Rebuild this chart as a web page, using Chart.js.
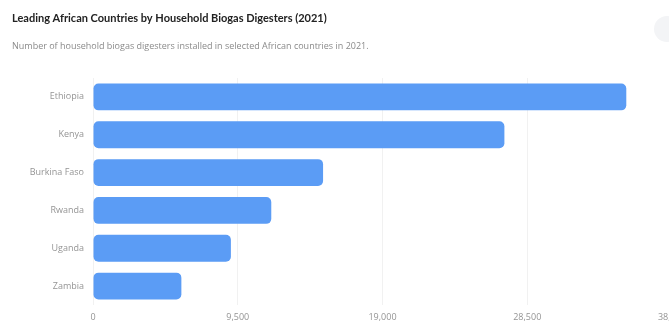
<!DOCTYPE html>
<html>
<head>
<meta charset="utf-8">
<script src="https://cdn.jsdelivr.net/npm/chart.js@4"></script>
<style>
  html, body { margin: 0; padding: 0; background: #fff; overflow: hidden; }
  #wrap { position: relative; width: 700px; height: 327px; }
  #btn { position: absolute; left: 654px; top: 16px; width: 26px; height: 26px; border-radius: 50%; background: #f3f4f6; }
</style>
</head>
<body>
<div id="wrap">
  <canvas id="biogasChart" width="700" height="327"></canvas>
  <div id="btn"></div>
</div>
<script>
// --- Datos ---
const countries = ['Ethiopia', 'Kenya', 'Burkina Faso', 'Rwanda', 'Uganda', 'Zambia'];
const digesters = [35000, 27000, 15100, 11700, 9050, 5800];
const xTicks = [0, 9500, 19000, 28500, 38000];

const fontFamily = '"Open Sans", "Noto Sans", sans-serif';

const ctx = document.getElementById('biogasChart').getContext('2d');

new Chart(ctx, {
    type: 'bar',
    data: {
        labels: countries,
        datasets: [{
            label: 'Household biogas digesters',
            data: digesters,
            backgroundColor: '#5b9cf5',
            borderRadius: 5,
            borderSkipped: false,
            categoryPercentage: 0.71,
            barPercentage: 1
        }]
    },
    options: {
        indexAxis: 'y',
        responsive: false,
        animation: false,
        layout: { padding: { left: 12, right: 28, bottom: 2 } },
        plugins: {
            legend: { display: false },
            tooltip: { enabled: false },
            title: {
                display: true,
                text: 'Leading African Countries by Household Biogas Digesters (2021)',
                align: 'start',
                color: '#222',
                font: { family: 'Lato, "Open Sans", sans-serif', size: 11, weight: 'bold' },
                padding: { top: 12, bottom: 16 }
            },
            subtitle: {
                display: true,
                text: 'Number of household biogas digesters installed in selected African countries in 2021.',
                align: 'start',
                color: '#8a8a8a',
                font: { family: fontFamily, size: 9 },
                padding: { bottom: 26 }
            }
        },
        scales: {
            x: {
                min: 0,
                max: 38000,
                afterBuildTicks: (scale) => {
                    scale.ticks = xTicks.map(v => ({ value: v }));
                },
                afterFit: (scale) => { scale.height = 20; },
                border: { display: false },
                grid: { color: '#f1f1f1', drawTicks: false },
                ticks: {
                    color: '#949494',
                    font: { family: fontFamily, size: 9 },
                    padding: 7,
                    maxRotation: 0,
                    callback: (v) => v.toLocaleString('en-US')
                }
            },
            y: {
                border: { display: false },
                grid: { display: false, drawTicks: false },
                afterFit: (scale) => { scale.width = 81; },
                ticks: {
                    color: '#949494',
                    font: { family: fontFamily, size: 9 },
                    padding: 9
                }
            }
        }
    }
});
</script>
</body>
</html>
